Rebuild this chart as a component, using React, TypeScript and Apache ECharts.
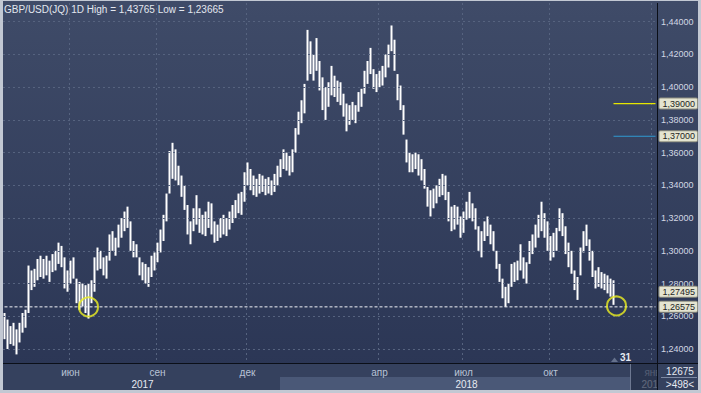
import React, { useEffect, useRef } from 'react';
import * as echarts from 'echarts';

const highs = [
  1.262, 1.258, 1.254, 1.256, 1.252, 1.256, 1.262, 1.264, 1.291, 1.288,
  1.289, 1.295, 1.297, 1.295, 1.297, 1.294, 1.298, 1.300, 1.305, 1.303,
  1.296, 1.288, 1.294, 1.296, 1.283, 1.281, 1.280, 1.279, 1.280, 1.282,
  1.296, 1.302, 1.300, 1.296, 1.297, 1.310, 1.312, 1.308, 1.316, 1.320,
  1.324, 1.327, 1.318, 1.306, 1.304, 1.296, 1.293, 1.292, 1.290, 1.297,
  1.299, 1.305, 1.313, 1.322, 1.335, 1.361, 1.366, 1.362, 1.352, 1.346,
  1.340, 1.328, 1.318, 1.326, 1.334, 1.326, 1.322, 1.324, 1.330, 1.329,
  1.318, 1.316, 1.320, 1.322, 1.320, 1.324, 1.328, 1.331, 1.335, 1.336,
  1.348, 1.354, 1.350, 1.346, 1.344, 1.347, 1.346, 1.344, 1.345, 1.343,
  1.347, 1.352, 1.356, 1.362, 1.360, 1.358, 1.362, 1.375, 1.385, 1.392,
  1.402, 1.435, 1.428, 1.420, 1.430, 1.416, 1.406, 1.400, 1.403, 1.413,
  1.407, 1.404, 1.403, 1.396, 1.390, 1.389, 1.391, 1.389, 1.397, 1.399,
  1.410, 1.416, 1.424, 1.411, 1.408, 1.410, 1.413, 1.420, 1.426, 1.4377,
  1.429, 1.408, 1.401, 1.389, 1.368, 1.360, 1.359, 1.360, 1.359, 1.356,
  1.350, 1.339, 1.337, 1.338, 1.340, 1.344, 1.347, 1.346, 1.336, 1.327,
  1.328, 1.327, 1.321, 1.324, 1.330, 1.336, 1.329, 1.326, 1.315, 1.312,
  1.318, 1.321, 1.316, 1.312, 1.300, 1.292, 1.283, 1.278, 1.280, 1.292,
  1.293, 1.294, 1.304, 1.296, 1.293, 1.306, 1.310, 1.316, 1.322, 1.330,
  1.323, 1.318, 1.309, 1.311, 1.314, 1.326, 1.323, 1.315, 1.305, 1.300,
  1.288, 1.284, 1.302, 1.312, 1.316, 1.307, 1.300, 1.288, 1.290, 1.287,
  1.286, 1.285, 1.283, 1.282,
];
const lows = [
  1.246, 1.240, 1.243, 1.242, 1.2367, 1.244, 1.250, 1.253, 1.262, 1.276,
  1.278, 1.282, 1.284, 1.283, 1.285, 1.281, 1.287, 1.288, 1.292, 1.290,
  1.277, 1.275, 1.280, 1.283, 1.268, 1.264, 1.266, 1.262, 1.2586, 1.268,
  1.275, 1.288, 1.289, 1.285, 1.283, 1.294, 1.300, 1.297, 1.302, 1.308,
  1.312, 1.314, 1.300, 1.296, 1.296, 1.285, 1.282, 1.280, 1.278, 1.284,
  1.288, 1.293, 1.299, 1.306, 1.318, 1.335, 1.344, 1.343, 1.340, 1.333,
  1.325, 1.310, 1.304, 1.312, 1.316, 1.311, 1.310, 1.309, 1.314, 1.310,
  1.305, 1.306, 1.308, 1.310, 1.309, 1.313, 1.317, 1.320, 1.323, 1.322,
  1.330, 1.340, 1.337, 1.334, 1.333, 1.335, 1.336, 1.334, 1.335, 1.334,
  1.336, 1.340, 1.345, 1.350, 1.349, 1.346, 1.348, 1.360, 1.371, 1.378,
  1.384, 1.404, 1.408, 1.404, 1.410, 1.398, 1.386, 1.380, 1.388, 1.395,
  1.394, 1.391, 1.389, 1.382, 1.373, 1.377, 1.380, 1.378, 1.385, 1.388,
  1.396, 1.402, 1.408, 1.399, 1.397, 1.400, 1.401, 1.406, 1.412, 1.422,
  1.410, 1.392, 1.386, 1.371, 1.354, 1.348, 1.348, 1.350, 1.346, 1.343,
  1.338, 1.327, 1.321, 1.326, 1.329, 1.333, 1.334, 1.331, 1.318, 1.312,
  1.313, 1.316, 1.308, 1.311, 1.319, 1.320, 1.318, 1.313, 1.300, 1.296,
  1.306, 1.309, 1.304, 1.300, 1.289, 1.281, 1.271, 1.2658, 1.268, 1.278,
  1.281, 1.282, 1.288, 1.283, 1.280, 1.292, 1.298, 1.302, 1.308, 1.312,
  1.308, 1.300, 1.294, 1.296, 1.300, 1.312, 1.309, 1.298, 1.290, 1.286,
  1.276, 1.270, 1.285, 1.299, 1.303, 1.294, 1.284, 1.277, 1.278, 1.277,
  1.276, 1.274, 1.272, 1.267,
];
const SLOTS = 218; // category slots incl. empty future space
const monthIdx = [22, 51, 81, 125, 153, 182, 216];
const monthLabels = ['июн', 'сен', 'дек', 'апр', 'июл', 'окт', 'янв'];
const yearIdx = [46, 154, 216];
const yearLabels = ['2017', '2018', '2019'];
const yTicks = [1.24, 1.26, 1.28, 1.30, 1.32, 1.34, 1.36, 1.38, 1.40, 1.42, 1.44];
const supportLevel = 1.26575;
const lastClose = 1.27495;
const alertYellow = 1.39;
const alertBlue = 1.37;
const alertFromIdx = 203;
const circlePts = [[28, 1.2657], [204, 1.2663]];
const titleText = 'GBP/USD(JQ) 1D High = 1,43765 Low = 1,23665';

const FONT = 'Liberation Sans, Arial, sans-serif';
const fmt = (v: number) => v.toFixed(5).replace('.', ',');

const levelSeries = (
  name: string,
  v: number,
  color: string,
  dash: any,
  visible: boolean,
  fromIdx: number,
  dist: number,
  width = 1,
) => ({
  name,
  type: 'line',
  data: [
    [fromIdx, v],
    [SLOTS - 1, v],
  ],
  z: 4,
  silent: true,
  showSymbol: false,
  symbol: 'none',
  color,
  itemStyle: { color },
  lineStyle: { color, type: dash, width, opacity: visible ? 1 : 0 },
  endLabel: {
    show: true,
    distance: dist,
    formatter: () => fmt(v),
    backgroundColor: '#e4e4d0',
    borderColor: '#8f8f80',
    borderWidth: 1,
    borderRadius: 1,
    color: '#1e1e1e',
    fontSize: 9,
    lineHeight: 10,
    fontFamily: FONT,
    padding: [0, 2, 0, 3],
  },
});

export default function App() {
  const ref = useRef<HTMLDivElement>(null);
  useEffect(() => {
    if (!ref.current) return;
    const chart = echarts.init(ref.current, undefined, { renderer: 'svg' });
    const cats = Array.from({ length: SLOTS }, (_, i) => String(i));
    const ohlc = highs.map((h, i) => [lows[i], h, lows[i], h]);
    const gridColor = '#56637f';

    chart.setOption({
      animation: false,
      backgroundColor: '#c2c8d3',
      title: {
        text: titleText,
        left: 4,
        top: 4,
        padding: 0,
        textStyle: { fontSize: 10, color: '#e3e7ef', fontWeight: 'normal', fontFamily: FONT },
      },
      grid: { left: 3, right: 44, top: 3, bottom: 30, containLabel: false },
      xAxis: [
        {
          type: 'category',
          data: cats,
          boundaryGap: true,
          axisLine: { show: false },
          axisTick: { show: false },
          splitLine: {
            show: true,
            interval: (index: number) => monthIdx.includes(index),
            lineStyle: { color: gridColor, type: [2, 3], width: 1 },
          },
          axisLabel: {
            show: true,
            interval: (index: number) => monthIdx.includes(index),
            formatter: (_v: string, index: number) => {
              const k = monthIdx.indexOf(index);
              return k >= 0 ? monthLabels[k] : '';
            },
            color: '#b9c3d6',
            fontSize: 10,
            fontFamily: FONT,
            margin: 4,
          },
        },
        {
          type: 'category',
          data: cats,
          boundaryGap: true,
          position: 'bottom',
          offset: 12,
          axisLine: { show: false },
          axisTick: { show: false },
          splitLine: { show: false },
          axisLabel: {
            show: true,
            interval: (index: number) => yearIdx.includes(index),
            formatter: (_v: string, index: number) => {
              const k = yearIdx.indexOf(index);
              return k >= 0 ? yearLabels[k] : '';
            },
            color: '#e6eaf2',
            fontSize: 10,
            fontFamily: FONT,
            margin: 4,
          },
        },
      ],
      yAxis: {
        type: 'value',
        position: 'right',
        min: 1.23145,
        max: 1.45143,
        axisLine: { show: false },
        axisTick: { show: false, customValues: yTicks },
        splitLine: { show: false },
        axisLabel: {
          show: true,
          customValues: yTicks,
          formatter: (v: number) => fmt(v),
          color: '#d2d8e4',
          fontSize: 9,
          fontFamily: FONT,
          margin: 4,
        },
      },
      series: [
        {
          name: 'grid',
          type: 'line',
          data: [],
          z: 1,
          silent: true,
          markLine: {
            silent: true,
            symbol: 'none',
            label: { show: false },
            lineStyle: { color: gridColor, type: [2, 3], width: 1 },
            data: yTicks.map((v) => ({ yAxis: v })),
          },
        },
        {
          name: 'GBP/USD',
          type: 'candlestick',
          data: ohlc,
          z: 3,
          barWidth: 2.6,
          itemStyle: {
            color: '#ffffff',
            color0: '#ffffff',
            borderColor: '#ffffff',
            borderColor0: '#ffffff',
            borderWidth: 0,
          },
        },
        levelSeries('support', supportLevel, '#f4f6fa', [3, 2], true, 0, 4),
        levelSeries('close', lastClose, '#000000', 'solid', false, alertFromIdx, 4),
        levelSeries('alertY', alertYellow, '#e6e600', 'solid', true, alertFromIdx, 4, 1.3),
        levelSeries('alertB', alertBlue, '#2f9bd2', 'solid', true, alertFromIdx, 4),
        {
          name: 'marks',
          type: 'scatter',
          data: circlePts,
          z: 5,
          silent: true,
          symbol: 'circle',
          symbolSize: 19,
          itemStyle: { color: 'rgba(0,0,0,0)', borderColor: '#eef022', borderWidth: 2 },
        },
      ],
      graphic: [
        {
          type: 'rect',
          z: -10,
          shape: { x: 3, y: 1, width: 695, height: 389 },
          style: {
            fill: new echarts.graphic.LinearGradient(0, 0, 0, 1, [
              { offset: 0, color: '#3f4b68' },
              { offset: 1, color: '#2a3554' },
            ]),
          },
        },
        { type: 'rect', z: -9, shape: { x: 3, y: 364, width: 654, height: 26 }, style: { fill: '#35415e' } },
        { type: 'rect', z: -8, shape: { x: 280, y: 377, width: 350, height: 13 }, style: { fill: '#4a5877' } },
        { type: 'rect', z: 20, shape: { x: 630, y: 364, width: 27, height: 26 }, style: { fill: 'rgba(38,48,72,0.7)' } },
        { type: 'line', z: 21, shape: { x1: 630.5, y1: 364, x2: 630.5, y2: 390 }, style: { stroke: '#6d7891', lineWidth: 1 } },
        { type: 'rect', z: 20, shape: { x: 658, y: 364, width: 40, height: 26 }, style: { fill: '#35415e' } },
        { type: 'line', z: 21, shape: { x1: 661, y1: 377.5, x2: 697, y2: 377.5 }, style: { stroke: '#7d89a3', lineWidth: 1 } },
        { type: 'text', z: 21, x: 680, y: 371, style: { text: '12675', fill: '#e6eaf2', font: `10px ${FONT}`, textAlign: 'center', textVerticalAlign: 'middle' } },
        { type: 'text', z: 21, x: 680, y: 384, style: { text: '>498<', fill: '#e6eaf2', font: `10px ${FONT}`, textAlign: 'center', textVerticalAlign: 'middle' } },
        { type: 'line', z: 22, shape: { x1: 657.5, y1: 3, x2: 657.5, y2: 390 }, style: { stroke: '#0b0f18', lineWidth: 1 } },
        { type: 'line', z: 22, shape: { x1: 3, y1: 363.5, x2: 698, y2: 363.5 }, style: { stroke: '#0b0f18', lineWidth: 1 } },
        { type: 'polygon', z: 6, shape: { points: [[611, 362], [614.5, 357.5], [618, 362]] }, style: { fill: '#65718c' } },
        { type: 'text', z: 6, x: 620, y: 357, style: { text: '31', fill: '#e6eaf2', font: `bold 10px ${FONT}`, textAlign: 'left', textVerticalAlign: 'middle' } },
      ],
    });
    return () => chart.dispose();
  }, []);
  return <div ref={ref} style={{ position: 'fixed', left: 0, top: 0, width: 701, height: 393 }} />;
}
